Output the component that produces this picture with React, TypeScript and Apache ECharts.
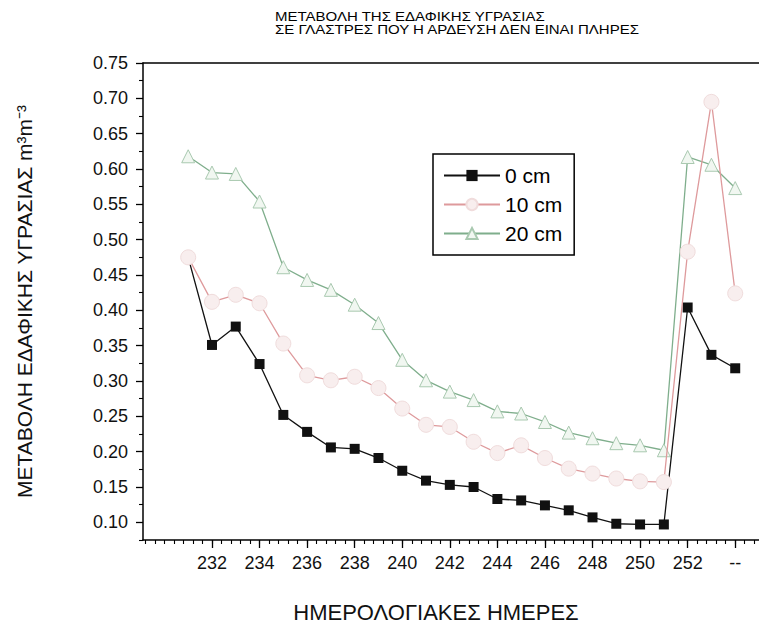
import React, { useEffect, useRef } from "react";
import * as echarts from "echarts";

const days = [231, 232, 233, 234, 235, 236, 237, 238, 239, 240, 241, 242, 243, 244, 245, 246, 247, 248, 249, 250, 251, 252, 253, 254];
const cm0 = [0.475, 0.351, 0.377, 0.324, 0.252, 0.228, 0.206, 0.204, 0.191, 0.173, 0.159, 0.153, 0.150, 0.133, 0.131, 0.124, 0.117, 0.107, 0.098, 0.097, 0.097, 0.404, 0.337, 0.318];
const cm10 = [0.475, 0.412, 0.422, 0.410, 0.353, 0.308, 0.301, 0.306, 0.290, 0.261, 0.238, 0.235, 0.214, 0.198, 0.209, 0.191, 0.176, 0.169, 0.162, 0.158, 0.157, 0.483, 0.695, 0.424];
const cm20 = [0.618, 0.595, 0.593, 0.554, 0.461, 0.443, 0.429, 0.408, 0.382, 0.330, 0.301, 0.285, 0.273, 0.257, 0.254, 0.242, 0.227, 0.219, 0.212, 0.209, 0.202, 0.617, 0.606, 0.573];

const seriesNames = ["0 cm", "10 cm", "20 cm"];
const xTickValues = [232, 234, 236, 238, 240, 242, 244, 246, 248, 250, 252, 254];
const xTickLabels = ["232", "234", "236", "238", "240", "242", "244", "246", "248", "250", "252", "--"];
const yTickValues = [0.1, 0.15, 0.2, 0.25, 0.3, 0.35, 0.4, 0.45, 0.5, 0.55, 0.6, 0.65, 0.7, 0.75];
const yMinorTickValues = [0.075, 0.125, 0.175, 0.225, 0.275, 0.325, 0.375, 0.425, 0.475, 0.525, 0.575, 0.625, 0.675, 0.725];

const titleText = "ΜΕΤΑΒΟΛΗ ΤΗΣ ΕΔΑΦΙΚΗΣ ΥΓΡΑΣΙΑΣ\nΣΕ ΓΛΑΣΤΡΕΣ ΠΟΥ Η ΑΡΔΕΥΣΗ ΔΕΝ ΕΙΝΑΙ ΠΛΗΡΕΣ";
const xName = "ΗΜΕΡΟΛΟΓΙΑΚΕΣ ΗΜΕΡΕΣ";
const yName = "ΜΕΤΑΒΟΛΗ ΕΔΑΦΙΚΗΣ ΥΓΡΑΣΙΑΣ m³m⁻³";

const FONT = "'Liberation Sans', Arial, sans-serif";
const X_MIN = 229.1;
const X_MAX = 255;
const Y_MIN = 0.075;
const Y_MAX = 0.75;

export default function App() {
  const ref = useRef<HTMLDivElement>(null);

  useEffect(() => {
    document.body.style.margin = "0";
    if (!ref.current) return;
    const chart = echarts.init(ref.current, undefined, { renderer: "svg" });

    const xMinor: number[] = [];
    for (let k = -7; k <= 57; k++) {
      const v = Math.round((232 + 0.4 * k) * 10) / 10;
      if (v >= X_MIN && v <= X_MAX) xMinor.push(v);
    }

    const pts = (arr: number[]) => days.map((d, i) => [d, arr[i]]);

    const option: any = {
      animation: false,
      backgroundColor: "#ffffff",
      textStyle: { fontFamily: FONT },
      graphic: [
        {
          type: "text",
          x: 275,
          y: 10,
          scaleX: 1.25,
          style: {
            text: titleText,
            font: "12px " + FONT,
            fill: "#000",
            lineHeight: 13.5,
            align: "left",
            verticalAlign: "top",
          },
        },
        {
          type: "text",
          x: 436,
          y: 612,
          style: {
            text: xName,
            font: "22px " + FONT,
            fill: "#111",
            align: "center",
            verticalAlign: "middle",
          },
        },
      ],
      legend: {
        data: seriesNames,
        orient: "vertical",
        left: 433,
        top: 154,
        padding: [11, 12, 11, 10],
        itemGap: 8,
        itemWidth: 56,
        itemHeight: 14,
        borderColor: "#000",
        borderWidth: 1.5,
        textStyle: { fontFamily: FONT, fontSize: 21, color: "#000" },
      },
      grid: { left: 143, right: 0, top: 63, bottom: 86, containLabel: false },
      xAxis: [
        {
          type: "value",
          min: X_MIN,
          max: X_MAX,
          position: "bottom",
          axisLine: { show: true, onZero: false, lineStyle: { color: "#000", width: 1.5 } },
          axisTick: { show: true, customValues: xTickValues, length: 8, inside: false, lineStyle: { color: "#000", width: 1.3 } },
          axisLabel: {
            customValues: xTickValues,
            fontFamily: FONT,
            fontSize: 18,
            color: "#111",
            margin: 14,
            formatter: (v: number) => {
              const i = xTickValues.findIndex((t) => Math.abs(t - v) < 1e-6);
              return i >= 0 ? xTickLabels[i] : "";
            },
          },
          splitLine: { show: false },
        },
        {
          type: "value",
          min: X_MIN,
          max: X_MAX,
          position: "bottom",
          axisLine: { show: false, onZero: false },
          axisTick: { show: true, customValues: xMinor, length: 4, lineStyle: { color: "#000", width: 1.1 } },
          axisLabel: { show: false },
          splitLine: { show: false },
        },
        {
          type: "value",
          min: X_MIN,
          max: X_MAX,
          position: "top",
          axisLine: { show: true, onZero: false, lineStyle: { color: "#000", width: 1.5 } },
          axisTick: { show: false },
          axisLabel: { show: false },
          splitLine: { show: false },
        },
      ],
      yAxis: [
        {
          type: "value",
          min: Y_MIN,
          max: Y_MAX,
          position: "left",
          name: yName,
          nameLocation: "middle",
          nameGap: 108,
          nameRotate: 90,
          nameTextStyle: { fontFamily: FONT, fontSize: 21, color: "#111" },
          axisLine: { show: true, onZero: false, lineStyle: { color: "#000", width: 1.5 } },
          axisTick: { show: true, customValues: yTickValues, length: 7, lineStyle: { color: "#000", width: 1.3 } },
          axisLabel: {
            customValues: yTickValues,
            fontFamily: FONT,
            fontSize: 18,
            color: "#111",
            margin: 15,
            formatter: (v: number) => v.toFixed(2),
          },
          splitLine: { show: false },
        },
        {
          type: "value",
          min: Y_MIN,
          max: Y_MAX,
          position: "left",
          axisLine: { show: false, onZero: false },
          axisTick: { show: true, customValues: yMinorTickValues, length: 4, lineStyle: { color: "#000", width: 1.1 } },
          axisLabel: { show: false },
          splitLine: { show: false },
        },
      ],
      series: [
        {
          name: seriesNames[0],
          type: "line",
          data: pts(cm0),
          xAxisIndex: 0,
          yAxisIndex: 0,
          symbol: "rect",
          symbolSize: 10,
          z: 3,
          lineStyle: { color: "#111", width: 1.3 },
          itemStyle: { color: "#111", borderColor: "#111", borderWidth: 0 },
        },
        {
          name: seriesNames[1],
          type: "line",
          data: pts(cm10),
          xAxisIndex: 0,
          yAxisIndex: 0,
          symbol: "circle",
          symbolSize: 15,
          z: 4,
          lineStyle: { color: "#de9a9c", width: 1.3 },
          itemStyle: { color: "#f8eeee", borderColor: "#f0dcdc", borderWidth: 1 },
        },
        {
          name: seriesNames[2],
          type: "line",
          data: pts(cm20),
          xAxisIndex: 0,
          yAxisIndex: 0,
          symbol: "triangle",
          symbolSize: 13,
          z: 2,
          lineStyle: { color: "#7fae8c", width: 1.3 },
          itemStyle: { color: "#f1f7f1", borderColor: "#a9c9b0", borderWidth: 1 },
        },
      ],
    };

    chart.setOption(option);
    return () => chart.dispose();
  }, []);

  return <div ref={ref} style={{ width: 759, height: 626 }} />;
}
